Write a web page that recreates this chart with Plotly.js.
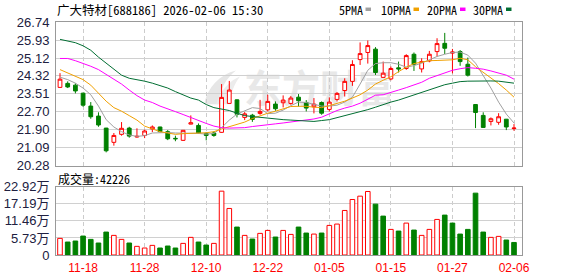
<!DOCTYPE html>
<html><head><meta charset="utf-8">
<script src="https://cdn.plot.ly/plotly-3.0.1.min.js"></script>
<style>html,body{margin:0;padding:0;background:#fff;}#c{width:578px;height:276px;}</style>
</head><body><div id="c"></div>
<script>
const dates = ["11-13","11-14","11-17","11-18","11-19","11-20","11-21","11-24","11-25","11-26","11-27","11-28",
"12-01","12-02","12-03","12-04","12-05","12-08","12-09","12-10","12-11","12-12","12-15","12-16","12-17","12-18","12-19","12-22",
"12-23","12-24","12-25","12-26","12-29","12-30","12-31","01-05","01-06","01-07","01-08","01-09","01-12","01-13","01-14","01-15",
"01-16","01-19","01-20","01-21","01-22","01-23","01-26","01-27","01-28","01-29","01-30","02-02","02-03","02-04","02-05","02-06"];
const openP  = [23.80,23.98,23.90,23.54,22.96,22.51,21.97,21.33,21.69,21.97,21.57,21.64,21.93,22.02,21.81,21.51,21.42,22.15,22.09,21.73,21.75,21.78,23.08,23.24,22.45,22.55,22.63,22.79,23.05,23.11,23.08,23.36,23.12,22.93,23.12,22.81,23.26,23.66,24.07,25.05,25.37,25.52,24.25,24.18,24.68,24.65,25.29,24.63,24.99,25.41,25.78,25.34,25.41,24.84,23.03,22.54,22.27,22.23,22.37,21.95];
const highP  = [24.44,24.07,23.98,23.56,23.14,22.68,21.98,21.75,22.24,22.03,21.96,21.90,22.09,22.03,21.88,21.63,21.87,22.54,22.18,21.78,21.82,23.95,24.09,23.26,22.69,22.61,23.24,23.47,23.17,23.44,23.41,23.50,23.23,23.32,23.17,23.35,23.59,24.21,25.02,25.82,25.91,25.61,24.96,24.74,24.96,25.29,25.37,25.11,25.44,26.01,26.25,25.53,25.48,25.14,23.04,22.68,22.45,22.64,22.38,22.15];
const lowP   = [23.78,23.77,23.53,22.93,22.39,22.03,20.88,21.18,21.63,21.54,21.54,21.52,21.79,21.78,21.43,21.38,21.39,22.14,21.74,21.42,21.58,21.76,23.07,22.45,22.33,22.25,22.57,22.72,22.75,22.90,23.02,22.94,22.72,22.63,22.57,22.72,23.17,23.39,23.87,24.81,24.87,24.36,24.24,24.12,24.47,24.59,24.54,24.47,24.93,25.19,25.30,24.43,24.77,24.29,21.97,21.99,22.09,22.12,21.88,21.85];
const closeP = [24.17,23.82,23.64,23.00,22.48,22.11,20.95,21.64,21.96,21.61,21.60,21.84,22.02,21.81,21.49,21.49,21.87,22.21,21.75,21.64,21.64,23.35,23.68,22.59,22.61,22.36,22.72,23.17,22.84,23.23,23.32,23.20,22.87,23.05,22.64,23.14,23.53,24.07,24.83,25.32,25.68,24.47,24.44,24.65,24.63,25.23,24.84,24.96,25.29,25.77,25.56,25.39,24.96,24.35,22.67,22.00,22.39,22.48,22.02,21.97];
const ma5  = [24.26,24.15,23.99,23.77,23.47,22.96,22.35,22.02,21.81,21.66,21.60,21.63,21.75,21.77,21.77,21.75,21.75,21.75,21.73,21.70,21.73,21.99,22.33,22.60,22.76,22.89,22.85,22.62,22.64,22.78,22.98,23.14,23.12,23.05,22.96,22.96,23.00,23.14,23.36,23.95,24.57,24.87,24.91,24.91,24.84,24.71,24.78,24.89,25.04,25.19,25.29,25.37,25.39,25.25,24.89,24.35,23.77,23.14,22.60,22.20];
const ma10 = [24.60,24.46,24.30,24.15,23.90,23.54,23.18,22.89,22.73,22.53,22.33,22.06,21.93,21.81,21.75,21.69,21.72,21.75,21.75,21.76,21.81,21.93,22.04,22.13,22.24,22.40,22.53,22.64,22.73,22.85,22.94,22.95,22.95,22.91,22.89,22.98,23.07,23.18,23.32,23.47,23.68,23.95,24.12,24.28,24.51,24.71,24.87,24.95,25.00,25.01,25.02,25.04,25.11,25.04,24.73,24.48,24.24,23.97,23.68,23.36];
const ma20 = [25.10,25.10,25.00,24.89,24.75,24.60,24.38,24.17,23.95,23.68,23.43,23.23,23.12,22.96,22.82,22.71,22.58,22.44,22.31,22.18,22.06,21.99,21.97,21.97,21.99,22.04,22.07,22.12,22.16,22.20,22.24,22.29,22.31,22.38,22.46,22.62,22.76,22.87,22.96,23.09,23.27,23.45,23.47,23.56,23.68,23.79,23.90,24.03,24.21,24.34,24.46,24.57,24.64,24.69,24.66,24.62,24.54,24.46,24.35,24.17];
const ma30 = [25.96,25.90,25.81,25.67,25.47,25.16,24.89,24.62,24.35,24.21,24.15,24.08,23.99,23.88,23.77,23.61,23.45,23.32,23.23,23.03,22.89,22.82,22.76,22.64,22.53,22.49,22.45,22.42,22.40,22.35,22.33,22.31,22.28,22.27,22.31,22.35,22.44,22.53,22.60,22.69,22.80,22.91,23.03,23.14,23.23,23.34,23.45,23.56,23.68,23.81,23.92,23.99,24.06,24.08,24.09,24.09,24.09,24.08,24.04,23.99];
// volume in 万 (10k)
const volume = [5.59,4.36,4.70,6.37,5.25,4.03,7.71,6.60,5.25,4.03,2.91,2.35,3.24,2.35,3.02,2.35,3.91,5.93,4.36,3.35,3.91,21.47,15.65,9.39,6.60,5.37,7.27,8.27,6.04,8.27,6.93,9.39,7.38,7.04,7.38,9.95,10.40,14.98,18.67,19.79,21.36,17.11,13.08,8.61,8.05,10.73,8.39,6.60,8.61,11.96,13.42,10.73,7.04,8.61,20.80,7.71,5.93,6.26,5.03,4.22];
const volUp = [1,0,0,0,0,0,0,1,1,0,1,1,1,0,0,0,1,1,0,0,1,1,1,0,1,0,1,1,0,1,1,0,0,1,0,1,1,1,1,1,1,0,0,1,0,1,0,1,1,1,0,0,0,0,0,0,1,1,0,0];
const lastVolume = 42226;
const priceTicks = ["20.28","21.09","21.90","22.70","23.51","24.32","25.12","25.93","26.74"];
const volTickVals = [0,5.73,11.46,17.19,22.92];
const volTickText = ["0","5.73万","11.46万","17.19万","22.92万"];
const dateTicks = ["11-18","11-28","12-10","12-22","01-05","01-15","01-27","02-06"];
const maNames = ["5PMA","10PMA","20PMA","30PMA"];
const maColors = ["#a0a0a0","#f0a000","#ff00ff","#006e32"];
const titleText = "广大特材[688186] 2026-02-06 15:30";

const idx = dates.map((d,i)=>i);
const RED = "#ff0000", GREEN = "#008000";
const W=578,H=276,L=56,R=56,T=21.5,B=21;
const pxX = x => (x-L)/(W-L-R);
const pxY = y => (H-B-y)/(H-T-B);
const mainBottom = 165.5, volTop = 186.7;

const traces = [];
traces.push({type:"candlestick", x:idx, open:openP, high:highP, low:lowP, close:closeP,
  xaxis:"x", yaxis:"y", whiskerwidth:0,
  increasing:{line:{color:RED,width:1}, fillcolor:"#ffffff"},
  decreasing:{line:{color:GREEN,width:1}, fillcolor:GREEN},
  hoverinfo:"skip", showlegend:false});
[ma5,ma10,ma20,ma30].forEach((m,k)=>{
  traces.push({type:"scatter", mode:"lines", x:idx, y:m, xaxis:"x", yaxis:"y",
    line:{color:maColors[k], width:1}, hoverinfo:"skip", showlegend:false});
});
traces.push({type:"bar", x:idx, y:volume, xaxis:"x2", yaxis:"y2", width:0.6,
  marker:{color:volUp.map(u=>u?"#ffffff":GREEN), line:{color:volUp.map(u=>u?RED:GREEN), width:1}},
  hoverinfo:"skip", showlegend:false});

const tickFont = {family:"Liberation Sans, Arial, Noto Sans CJK SC", size:13, color:"#202040"};
const xr = [-0.52, 60.04];
const gridDash = "4px,3px";
const layout = {
  width:W, height:H, margin:{l:L,r:R,t:T,b:B,pad:0},
  paper_bgcolor:"#ffffff", plot_bgcolor:"#ffffff", showlegend:false, bargap:0,
  xaxis:{range:xr, anchor:"y", tickvals:dateTicks.map(d=>dates.indexOf(d)), showticklabels:false,
    showgrid:true, gridcolor:"#cccccc", griddash:gridDash, gridwidth:1, zeroline:false,
    showline:true, mirror:true, linecolor:"#999999", linewidth:1, ticks:"", fixedrange:true,
    rangeslider:{visible:false}},
  yaxis:{domain:[pxY(mainBottom),1], range:[Number(priceTicks[0]), Number(priceTicks[priceTicks.length-1])],
    tickvals:priceTicks.map(Number), ticktext:priceTicks, tickfont:tickFont,
    showgrid:true, gridcolor:"#d0d0d0", zeroline:false, showline:true, mirror:true,
    linecolor:"#999999", linewidth:1, ticks:"", ticklabelstandoff:3, fixedrange:true},
  xaxis2:{range:xr, anchor:"y2", tickvals:dateTicks.map(d=>dates.indexOf(d)), ticktext:dateTicks,
    tickfont:{family:"Liberation Sans, Arial", size:12, color:RED},
    showgrid:true, gridcolor:"#cccccc", griddash:gridDash, zeroline:false,
    showline:true, mirror:true, linecolor:"#999999", linewidth:1, ticks:"", ticklabelstandoff:2, fixedrange:true},
  yaxis2:{domain:[0,pxY(volTop)], range:[0,volTickVals[volTickVals.length-1]],
    tickvals:volTickVals, ticktext:volTickText, tickfont:tickFont,
    showgrid:true, gridcolor:"#d0d0d0", zeroline:false, showline:true, mirror:true,
    linecolor:"#999999", linewidth:1, ticks:"", ticklabelstandoff:3, fixedrange:true},
  annotations:[], shapes:[]
};
const monoCJK = "Noto Sans Mono CJK SC, Noto Sans CJK SC, DejaVu Sans Mono";
layout.annotations.push({xref:"paper", yref:"paper", x:pxX(56), y:pxY(8.5), xanchor:"left", yanchor:"middle",
  text:titleText, showarrow:false, font:{family:monoCJK, size:12.5, color:"#000000"}, borderpad:0});
layout.annotations.push({xref:"paper", yref:"paper", x:pxX(57), y:pxY(178), xanchor:"left", yanchor:"middle",
  text:"成交量:"+lastVolume, showarrow:false, font:{family:monoCJK, size:12, color:"#000000"}, borderpad:0});
const legX = [338,380,426,472], sqX = [365.5,413.5,460,506];
maNames.forEach((n,k)=>{
  layout.annotations.push({xref:"paper", yref:"paper", x:pxX(legX[k]), y:pxY(9), xanchor:"left", yanchor:"middle",
    text:n, showarrow:false, font:{family:monoCJK, size:12, color:"#000000"}, borderpad:0});
  layout.shapes.push({type:"rect", xref:"paper", yref:"paper", x0:pxX(sqX[k]), x1:pxX(sqX[k]+5.5),
    y0:pxY(10.5), y1:pxY(7), fillcolor:maColors[k], line:{width:0}});
});
// faint watermark
const wm = '<svg xmlns="http://www.w3.org/2000/svg" width="190" height="40" viewBox="0 0 190 40">'+
  '<path d="M4 36 C8 18 20 6 36 2 C26 10 20 20 18 36 Z" fill="#e6e6e6"/>'+
  '<path d="M16 36 C20 22 30 12 40 8 C34 16 30 26 30 36 Z" fill="#ececec"/>'+
  '<text x="44" y="34" font-family="Noto Sans CJK SC" font-weight="bold" font-size="38" fill="#e8e8e8">东方财富</text></svg>';
layout.images = [{source:"data:image/svg+xml;charset=utf-8,"+encodeURIComponent(wm), xref:"paper", yref:"paper",
  x:pxX(200), y:pxY(68), sizex:190/(W-L-R), sizey:40/(H-T-B), sizing:"stretch", xanchor:"left", yanchor:"top", layer:"below", opacity:1}];

Plotly.newPlot("c", traces, layout, {staticPlot:true, displayModeBar:false});
</script></body></html>
